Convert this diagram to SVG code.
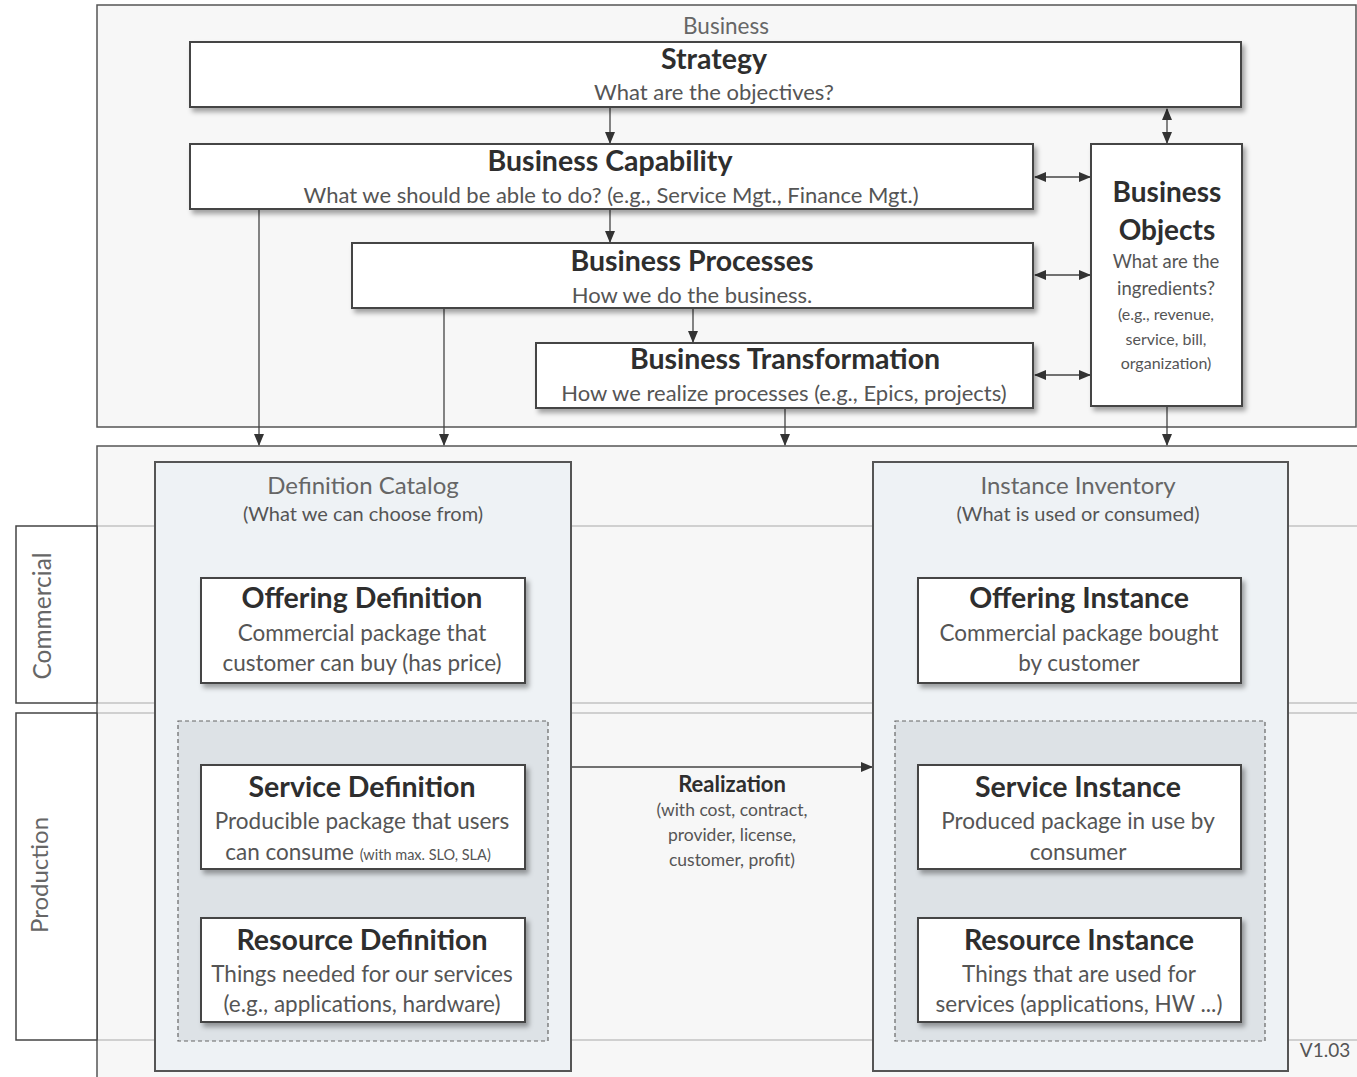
<svg xmlns="http://www.w3.org/2000/svg" width="1357" height="1077" viewBox="0 0 1357 1077">
<defs>
<style>
.outer{fill:#f7f7f7;stroke:#555;stroke-width:1.5}
.box{fill:#fff;stroke:#444;stroke-width:2;filter:url(#sh)}
.cat{fill:#eef2f5;stroke:#555;stroke-width:2}
.dash{fill:#dde2e6;stroke:#666;stroke-width:1.2;stroke-dasharray:4 3}
.lane{fill:#fff;stroke:#444;stroke-width:1.5}
.hl{stroke:#aaa;stroke-width:1.2}
.con{stroke:#444;stroke-width:1.3;fill:none}
text{font-family:Lato,"Open Sans","Liberation Sans",sans-serif;text-anchor:middle}
.t{font-weight:bold;font-size:28.5px;fill:#2e2e2e}
.s{font-size:22px;fill:#555}
.i{font-size:22.5px;fill:#555}
.lbl{font-size:24px;fill:#666}
.sm{font-size:18px;fill:#555}
</style>
<filter id="sh" x="-5%" y="-10%" width="112%" height="130%">
<feDropShadow dx="3" dy="4" stdDeviation="2.5" flood-color="#000" flood-opacity="0.35"/>
</filter>
<marker id="ah" markerWidth="12" markerHeight="10" refX="11" refY="5" orient="auto-start-reverse" markerUnits="userSpaceOnUse">
<path d="M0,0 L12,5 L0,10 z" fill="#333"/>
</marker>
</defs>

<g id="business-area">
<rect class="outer" x="97" y="5" width="1259" height="422"/>
<text x="726" y="34" class="lbl" style="font-size:22.5px">Business</text>
</g>

<g id="bottom-area">
<rect class="outer" x="97" y="446" width="1262" height="640"/>
<line class="hl" x1="97" y1="526" x2="1357" y2="526"/>
<line class="hl" x1="97" y1="703" x2="1357" y2="703"/>
<line class="hl" x1="97" y1="713" x2="1357" y2="713"/>
<line class="hl" x1="97" y1="1040" x2="1357" y2="1040"/>
</g>

<g id="lane-commercial">
<rect class="lane" x="16" y="526" width="81" height="177"/>
<text class="lbl" transform="translate(51,616) rotate(-90)" style="font-size:24.5px">Commercial</text>
</g>
<g id="lane-production">
<rect class="lane" x="16" y="713" width="81" height="327"/>
<text class="lbl" transform="translate(48,875) rotate(-90)" style="font-size:24px">Production</text>
</g>

<g id="connectors">
<line class="con" x1="610" y1="107" x2="610" y2="143" marker-end="url(#ah)"/>
<line class="con" x1="610" y1="209" x2="610" y2="242" marker-end="url(#ah)"/>
<line class="con" x1="693" y1="308" x2="693" y2="342" marker-end="url(#ah)"/>
<line class="con" x1="1167" y1="109" x2="1167" y2="143" marker-start="url(#ah)" marker-end="url(#ah)"/>
<line class="con" x1="1035" y1="177" x2="1090" y2="177" marker-start="url(#ah)" marker-end="url(#ah)"/>
<line class="con" x1="1035" y1="275" x2="1090" y2="275" marker-start="url(#ah)" marker-end="url(#ah)"/>
<line class="con" x1="1035" y1="375" x2="1090" y2="375" marker-start="url(#ah)" marker-end="url(#ah)"/>
<line class="con" x1="259" y1="209" x2="259" y2="445" marker-end="url(#ah)"/>
<line class="con" x1="444" y1="308" x2="444" y2="445" marker-end="url(#ah)"/>
<line class="con" x1="785" y1="408" x2="785" y2="445" marker-end="url(#ah)"/>
<line class="con" x1="1167" y1="406" x2="1167" y2="445" marker-end="url(#ah)"/>
<line class="con" x1="571" y1="767" x2="872" y2="767" marker-end="url(#ah)"/>
</g>

<g id="strategy">
<rect class="box" x="190" y="42" width="1051" height="65"/>
<text x="714" y="69" class="t">Strategy</text>
<text x="714" y="100" class="s">What are the objectives?</text>
</g>
<g id="business-capability">
<rect class="box" x="190" y="144" width="843" height="65"/>
<text x="610" y="171" class="t">Business Capability</text>
<text x="611" y="203" class="s">What we should be able to do? (e.g., Service Mgt., Finance Mgt.)</text>
</g>
<g id="business-processes">
<rect class="box" x="352" y="243" width="681" height="65"/>
<text x="692" y="271" class="t">Business Processes</text>
<text x="692" y="303" class="s">How we do the business.</text>
</g>
<g id="business-transformation">
<rect class="box" x="536" y="343" width="497" height="65"/>
<text x="785" y="369" class="t">Business Transformation</text>
<text x="784" y="401" class="s">How we realize processes (e.g., Epics, projects)</text>
</g>
<g id="business-objects">
<rect class="box" x="1091" y="144" width="151" height="262"/>
<text x="1167" y="202" class="t" style="font-size:28px">Business</text>
<text x="1167" y="240" class="t" style="font-size:28px">Objects</text>
<text x="1166" y="268" class="s" style="font-size:18.5px">What are the</text>
<text x="1166" y="295" class="s" style="font-size:18.5px">ingredients?</text>
<text x="1166" y="320" class="sm" style="font-size:16px">(e.g., revenue,</text>
<text x="1166" y="345" class="sm" style="font-size:16px">service, bill,</text>
<text x="1166" y="369" class="sm" style="font-size:16px">organization)</text>
</g>

<g id="definition-catalog">
<rect class="cat" x="155" y="462" width="416" height="609"/>
<text x="363" y="494" class="lbl">Definition Catalog</text>
<text x="363" y="521" class="sm" style="font-size:20px">(What we can choose from)</text>
<rect class="dash" x="178" y="721" width="370" height="320"/>
</g>
<g id="instance-inventory">
<rect class="cat" x="873" y="462" width="415" height="609"/>
<text x="1078" y="494" class="lbl">Instance Inventory</text>
<text x="1078" y="521" class="sm" style="font-size:20px">(What is used or consumed)</text>
<rect class="dash" x="895" y="721" width="370" height="320"/>
</g>

<g id="offering-definition">
<rect class="box" x="201" y="578" width="324" height="105"/>
<text x="362" y="608" class="t">Offering Definition</text>
<text x="362" y="641" class="i">Commercial package that</text>
<text x="362" y="671" class="i">customer can buy (has price)</text>
</g>
<g id="service-definition">
<rect class="box" x="201" y="765" width="324" height="104"/>
<text x="362" y="797" class="t">Service Definition</text>
<text x="362" y="829" class="i">Producible package that users</text>
<text x="358" y="860" class="i">can consume <tspan style="font-size:14.5px">(with max. SLO, SLA)</tspan></text>
</g>
<g id="resource-definition">
<rect class="box" x="201" y="918" width="324" height="104"/>
<text x="362" y="950" class="t">Resource Definition</text>
<text x="362" y="982" class="i">Things needed for our services</text>
<text x="362" y="1012" class="i">(e.g., applications, hardware)</text>
</g>

<g id="offering-instance">
<rect class="box" x="918" y="578" width="323" height="105"/>
<text x="1079" y="608" class="t">Offering Instance</text>
<text x="1079" y="641" class="i">Commercial package bought</text>
<text x="1079" y="671" class="i">by customer</text>
</g>
<g id="service-instance">
<rect class="box" x="918" y="765" width="323" height="104"/>
<text x="1078" y="797" class="t">Service Instance</text>
<text x="1078" y="829" class="i">Produced package in use by</text>
<text x="1078" y="860" class="i">consumer</text>
</g>
<g id="resource-instance">
<rect class="box" x="918" y="918" width="323" height="104"/>
<text x="1079" y="950" class="t">Resource Instance</text>
<text x="1079" y="982" class="i">Things that are used for</text>
<text x="1079" y="1012" class="i">services (applications, HW ...)</text>
</g>

<g id="realization-label">
<text x="732" y="792" class="t" style="font-size:22px">Realization</text>
<text x="732" y="816" class="sm" style="font-size:17.5px">(with cost, contract,</text>
<text x="732" y="841" class="sm" style="font-size:17.5px">provider, license,</text>
<text x="732" y="866" class="sm" style="font-size:17.5px">customer, profit)</text>
</g>

<g id="version">
<text x="1325" y="1057" class="sm" style="font-size:19px">V1.03</text>
</g>
</svg>
